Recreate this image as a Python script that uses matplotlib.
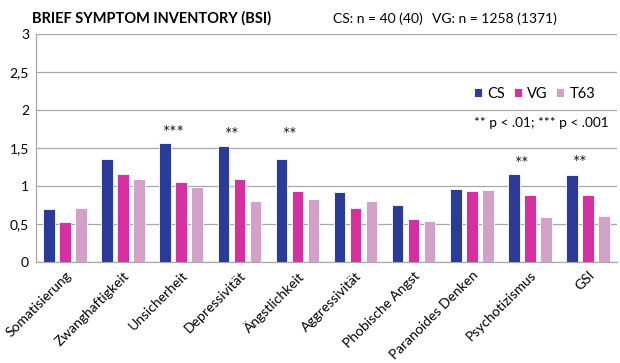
import numpy as np
import matplotlib.pyplot as plt

plt.rcParams['font.family'] = ['Lato', 'DejaVu Sans']

categories = ['Somatisierung', 'Zwanghaftigkeit', 'Unsicherheit', 'Depressivität',
              'Ängstlichkeit', 'Aggressivität', 'Phobische Angst', 'Paranoides Denken',
              'Psychotizismus', 'GSI']
cs = [0.70, 1.355, 1.57, 1.53, 1.355, 0.925, 0.755, 0.965, 1.165, 1.15]
vg = [0.53, 1.16, 1.06, 1.09, 0.94, 0.715, 0.575, 0.935, 0.885, 0.885]
t63 = [0.71, 1.09, 0.99, 0.80, 0.83, 0.80, 0.545, 0.945, 0.595, 0.61]
# significance marks: (category index, label, height)
stars = [(2, '***', 1.70), (3, '**', 1.67), (4, '**', 1.67), (8, '**', 1.29), (9, '**', 1.30)]

col_cs = '#2A3B98'
col_vg = '#D630A0'
col_t63 = '#D3A0C8'
grid_col = '#A8A8A8'

fig = plt.figure(figsize=(6.2, 3.63), dpi=100)
ax = fig.add_axes([36/620, 1 - 262.3/363, 581/620, (262.3 - 34)/363])

x = np.arange(len(categories))
w = 0.2
step = 0.275
ax.bar(x - step, cs, w, color=col_cs, edgecolor='white', linewidth=0.6, label='CS', zorder=3)
ax.bar(x, vg, w, color=col_vg, edgecolor='white', linewidth=0.6, label='VG', zorder=3)
ax.bar(x + step, t63, w, color=col_t63, edgecolor='white', linewidth=0.6, label='T63', zorder=3)

for i, s, h in stars:
    ax.text(i - step + 0.15, h, s, ha='center', va='center', fontsize=12.5, color='#222222')

ax.set_xlim(-0.5, len(categories) - 0.5)
ax.set_ylim(0, 3)
ax.set_yticks([0, 0.5, 1, 1.5, 2, 2.5, 3])
ax.set_yticklabels(['0', '0,5', '1', '1,5', '2', '2,5', '3'], fontsize=10)
ax.yaxis.grid(True, color=grid_col, linewidth=0.9, zorder=0)
ax.set_xticks(x)
ax.set_xticklabels(categories, rotation=45, ha='right', rotation_mode='anchor', fontsize=10)
ax.tick_params(length=0, pad=5)
for sp in ['top', 'right']:
    ax.spines[sp].set_visible(False)
for sp in ['left', 'bottom']:
    ax.spines[sp].set_color(grid_col)
    ax.spines[sp].set_linewidth(0.9)

ax.legend(loc='center left', bbox_to_anchor=(0.742, 0.737), ncol=3, frameon=False,
          fontsize=10.5, handlelength=0.55, handleheight=0.55, handletextpad=0.35,
          columnspacing=0.6, borderpad=0)
ax.text(0.754, 0.612, '** p < .01; *** p < .001', transform=ax.transAxes,
        ha='left', va='center', fontsize=9.8)

fig.text(32/620, 1 - 18/363, 'BRIEF SYMPTOM INVENTORY (BSI)', fontsize=10.5,
         fontweight='bold', ha='left', va='center')
fig.text(333/620, 1 - 19/363, 'CS: n = 40 (40)', fontsize=10, ha='left', va='center')
fig.text(432/620, 1 - 19/363, 'VG: n = 1258 (1371)', fontsize=10, ha='left', va='center')

fig.savefig('out.png', dpi=100)
